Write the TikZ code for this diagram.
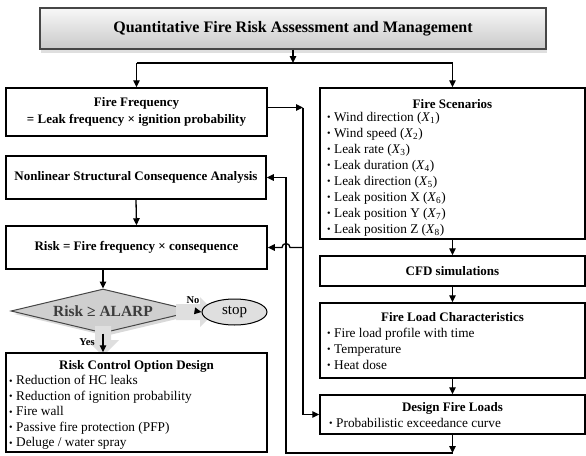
\documentclass[tikz,border=0pt]{standalone}
\usepackage{fontspec}
\setmainfont{Liberation Serif}
\usetikzlibrary{shapes.geometric,arrows.meta,shadows,calc}
\newcommand\bul{{\fontsize{10}{10}\selectfont\raisebox{0.3pt}{•}}\hspace{3.5pt}}
\begin{document}
\begin{tikzpicture}[x=1pt,y=-1pt,
  box/.style={draw=black, line width=1.5pt, fill=white, inner sep=0pt, rectangle},
  arr/.style={line width=1.3pt, -{Triangle[length=7pt,width=6.5pt]}},
  ln/.style={line width=1.3pt},
  hd/.style={font=\fontsize{13}{16}\selectfont\bfseries, inner sep=0pt, anchor=base},
  itm/.style={font=\fontsize{13.3}{16}\selectfont, inner sep=0pt, anchor=base west},
  fat/.style={fill=gray!25, draw=none},
  lab/.style={font=\fontsize{10.5}{12}\selectfont\bfseries, inner sep=0pt}
]
\useasboundingbox (0,0) rectangle (586,455);

% title
\node[draw=gray!55!black, line width=1.2pt, top color=gray!6, bottom color=gray!42,
      drop shadow={shadow xshift=1pt, shadow yshift=-4pt, opacity=0.25, fill=gray},
      minimum width=506pt, minimum height=41pt, inner sep=0pt,
      font=\fontsize{16}{18}\selectfont\bfseries] (title) at (293,28.5)
      {Quantitative Fire Risk Assessment and Management};

% left column
\node[box, minimum width=261pt, minimum height=48pt, align=center,
      font=\fontsize{13}{17}\selectfont\bfseries] (ff) at (136.5,112)
      {Fire Frequency\\= Leak frequency × ignition probability};
\node[box, minimum width=260pt, minimum height=43pt,
      font=\fontsize{13}{16}\selectfont\bfseries] (nsca) at (136,177.5)
      {Nonlinear Structural Consequence Analysis};
\node[box, minimum width=261pt, minimum height=43pt,
      font=\fontsize{13}{16}\selectfont\bfseries] (risk) at (136.5,247.5)
      {Risk = Fire frequency × consequence};

\node[diamond, aspect=4.2, draw=gray!55!black, line width=1pt, fill=gray!38,
      minimum width=184pt, minimum height=44pt, inner sep=0pt,
      drop shadow={shadow xshift=3pt, shadow yshift=-3pt, opacity=0.3, fill=gray},
      font=\fontsize{15.5}{18}\selectfont\bfseries, text=gray!20!black!85] (dia) at (103,311)
      {Risk ≥ ALARP};

% fat grey arrows
\fill[fat] (176,304) -- (200,304) -- (200,297) -- (215,312) -- (200,327) -- (200,320) -- (176,320) -- cycle;
\fill[fat] (95,326) -- (111,326) -- (111,340) -- (119,340) -- (103,356) -- (87,340) -- (95,340) -- cycle;

\node[ellipse, draw=black, line width=1pt, fill=gray!25, minimum width=65pt,
      minimum height=26pt, inner sep=0pt, font=\fontsize{15}{18}\selectfont] (stop) at (234.5,312) {stop};

\node[box, minimum width=261pt, minimum height=99pt] (rcod) at (136.5,402.5) {};
\node[hd] (rcodt) at (136.5,369.5) {Risk Control Option Design};
\node[itm] (r1) at (9,384.5) {\bul Reduction of HC leaks};
\node[itm] (r2) at (9,400) {\bul Reduction of ignition probability};
\node[itm] (r3) at (9,415.5) {\bul Fire wall};
\node[itm] (r4) at (9,431) {\bul Passive fire protection (PFP)};
\node[itm] (r5) at (9,446.5) {\bul Deluge / water spray};

\node[lab] (no) at (193,300) {No};
\node[lab] (yes) at (87,342) {Yes};

% right column
\node[box, minimum width=265pt, minimum height=151pt] (fs) at (452.5,163.5) {};
\node[hd] (fst) at (452.5,108) {Fire Scenarios};
\node[itm] (f1) at (327,121) {\bul Wind direction (\textit{X}\textsubscript{1})};
\node[itm] (f2) at (327,137) {\bul Wind speed (\textit{X}\textsubscript{2})};
\node[itm] (f3) at (327,153) {\bul Leak rate (\textit{X}\textsubscript{3})};
\node[itm] (f4) at (327,169) {\bul Leak duration (\textit{X}\textsubscript{4})};
\node[itm] (f5) at (327,185) {\bul Leak direction (\textit{X}\textsubscript{5})};
\node[itm] (f6) at (327,201) {\bul Leak position X (\textit{X}\textsubscript{6})};
\node[itm] (f7) at (327,217) {\bul Leak position Y (\textit{X}\textsubscript{7})};
\node[itm] (f8) at (327,233) {\bul Leak position Z (\textit{X}\textsubscript{8})};

\node[box, minimum width=265pt, minimum height=30pt,
      font=\fontsize{13}{16}\selectfont\bfseries] (cfd) at (452.5,271) {CFD simulations};

\node[box, minimum width=265pt, minimum height=75pt] (flc) at (452.5,340.5) {};
\node[hd] (flct) at (452.5,321) {Fire Load Characteristics};
\node[itm] (l1) at (327,337) {\bul Fire load profile with time};
\node[itm] (l2) at (327,353) {\bul Temperature};
\node[itm] (l3) at (327,369) {\bul Heat dose};

\node[box, minimum width=265pt, minimum height=39pt] (dfl) at (452.5,414.5) {};
\node[hd] (dflt) at (452.5,411) {Design Fire Loads};
\node[itm] (d1) at (329,427) {\bul Probabilistic exceedance curve};

% connectors
\coordinate (j) at (293,63);
\draw[arr] (title.south) -- (j);
\draw[ln] (ff.north |- j) -- (fs.north |- j);
\draw[arr] (ff.north |- j) -- (ff.north);
\draw[arr] (fs.north |- j) -- (fs.north);

\coordinate (c1) at (303,107.5);
\draw[arr] (ff.east |- c1) -- (c1);
\draw[arr] (c1) |- (dfl.west);
\draw[arr] (c1 |- risk.east) -- (290,247.5) arc[start angle=0, end angle=180, radius=4pt] -- (risk.east);

\coordinate (c2) at (452.5,453);
\coordinate (c3) at (286,453);
\draw[arr] (dfl.south) -- (c2);
\draw[arr] (c2) -- (c3) |- (nsca.east);

\draw[arr] (nsca.south) -- (risk.north);
\draw[arr] (risk.south -| dia.north) -- (dia.north);
\draw[arr] (dia.east) -- (stop.west);
\draw[arr] (dia.south) -- (dia.south |- rcod.north);

\draw[arr] (fs.south) -- (cfd.north);
\draw[arr] (cfd.south) -- (flc.north);
\draw[arr] (flc.south) -- (dfl.north);
\end{tikzpicture}
\end{document}
